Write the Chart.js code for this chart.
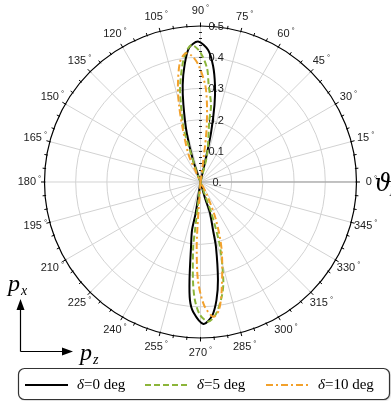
<!DOCTYPE html>
<html>
<head>
<meta charset="utf-8">
<script src="https://cdn.jsdelivr.net/npm/chart.js@4.4.1/dist/chart.umd.min.js"></script>
<style>
  html, body { margin: 0; padding: 0; background: #fff; }
  canvas { display: block; }
</style>
</head>
<body>
<canvas id="chart" width="391" height="401"></canvas>
<script>
// series labels
const seriesLabels = ['=0 deg', '=5 deg', '=10 deg'];

// angle (deg) / radius pairs, null = break between the two lobes
const theta0 = [78, 77.2, 77.9, 79.7, 81.5, 83.8, 86.7, 91.0, 94.9, 97.9, 100.4, 102.5, 105.7, 108.8, 109, null,
  260, 261.2, 260.0, 261.7, 263.6, 264.9, 266.8, 271.2, 274.9, 277.7, 280.1, 283.4, 284.6, 287.0, 285.7, 286];
const r0 = [0, 0.072, 0.161, 0.251, 0.314, 0.374, 0.424, 0.450, 0.431, 0.375, 0.316, 0.253, 0.163, 0.075, 0, null,
  0, 0.1005, 0.156, 0.2105, 0.316, 0.380, 0.417, 0.455, 0.431, 0.382, 0.319, 0.214, 0.159, 0.104, 0.053, 0];

const theta5 = [76, 76.5, 81.9, 82.2, 85.2, 86.7, 90.2, 93.8, 97.4, 101.8, 104.2, 107.6, 108.2, 110.6, 111, null,
  263, 263.5, 263.6, 265.6, 267.3, 269.8, 273.2, 276.7, 280.8, 283.1, 286.8, 289.2, 289, 289];
const r5 = [0, 0.089, 0.201, 0.249, 0.312, 0.365, 0.417, 0.440, 0.405, 0.318, 0.255, 0.175, 0.108, 0.041, 0, null,
  0, 0.155, 0.209, 0.315, 0.379, 0.426, 0.448, 0.426, 0.369, 0.3225, 0.216, 0.112, 0.044, 0];

const theta10 = [82, 82.6, 83.4, 85.2, 87.2, 91.2, 93.9, 96.7, 99.7, 103.1, 105.6, 108.6, 113.6, 114.2, 114, null,
  266, 266.2, 266.8, 268.5, 271.6, 275.4, 278.2, 281.1, 287.3, 292.2, 296.6, 297];
const r10 = [0, 0.087, 0.168, 0.248, 0.311, 0.378, 0.405, 0.415, 0.390, 0.319, 0.256, 0.176, 0.094, 0.035, 0, null,
  0, 0.154, 0.218, 0.314, 0.394, 0.434, 0.4145, 0.353, 0.228, 0.1315, 0.047, 0];

// axis ticks
const radialTicks = [0, 0.1, 0.2, 0.3, 0.4, 0.5];
const radialTickLabels = ['0.', '0.1', '0.2', '0.3', '0.4', '0.5'];
const angleTicks = [0, 15, 30, 45, 60, 75, 90, 105, 120, 135, 150, 165, 180, 195, 210, 225, 240, 255, 270, 285, 300, 315, 330, 345];

const rMax = 0.5;

function toXY(thetas, radii) {
  return thetas.map((t, i) => {
    if (t === null || radii[i] === null) return { x: null, y: null };
    const a = t * Math.PI / 180;
    return { x: radii[i] * Math.cos(a), y: radii[i] * Math.sin(a) };
  });
}

const polarGrid = {
  id: 'polarGrid',
  beforeDatasetsDraw(chart) {
    const { ctx, scales: { x, y } } = chart;
    const cx = x.getPixelForValue(0), cy = y.getPixelForValue(0);
    const unit = x.getPixelForValue(1) - cx;
    const R = rMax * unit;
    ctx.save();

    // spokes and circles
    ctx.strokeStyle = '#d2d2d2';
    ctx.lineWidth = 1;
    angleTicks.forEach(a => {
      const t = a * Math.PI / 180;
      ctx.beginPath();
      ctx.moveTo(cx, cy);
      ctx.lineTo(cx + R * Math.cos(t), cy - R * Math.sin(t));
      ctx.stroke();
    });
    radialTicks.slice(1, -1).forEach(r => {
      ctx.beginPath();
      ctx.arc(cx, cy, r * unit, 0, 2 * Math.PI);
      ctx.stroke();
    });
    ctx.strokeStyle = '#9a9a9a';
    ctx.beginPath();
    ctx.moveTo(cx, cy);
    ctx.lineTo(cx + R, cy);
    ctx.stroke();

    // outer circle + ticks
    ctx.strokeStyle = '#000';
    ctx.lineWidth = 1.2;
    ctx.beginPath();
    ctx.arc(cx, cy, R, 0, 2 * Math.PI);
    ctx.stroke();
    ctx.lineWidth = 1;
    for (let a = 0; a < 360; a += 5) {
      const t = a * Math.PI / 180;
      const l = a % 15 === 0 ? 3.5 : 2.5;
      ctx.beginPath();
      ctx.moveTo(cx + (R - 1) * Math.cos(t), cy - (R - 1) * Math.sin(t));
      ctx.lineTo(cx + (R + l) * Math.cos(t), cy - (R + l) * Math.sin(t));
      ctx.stroke();
    }

    // minor ticks along the radial axis
    ctx.fillStyle = '#222';
    for (let i = 1; i < 25; i++) {
      ctx.fillRect(cx - 1.5, Math.round(cy - i * 0.02 * unit), 3, 1);
    }

    // radial labels
    ctx.font = '11px "Liberation Sans", Arial, sans-serif';
    ctx.textBaseline = 'middle';
    ctx.textAlign = 'left';
    ctx.fillStyle = '#222';
    radialTicks.forEach((r, i) => {
      ctx.fillText(radialTickLabels[i], cx + (i === 0 ? 12 : 8), cy - r * unit + 1);
    });

    // angle labels
    angleTicks.forEach(a => {
      const t = a * Math.PI / 180;
      const lr = R + 15;
      const lx = cx + lr * Math.cos(t), ly = cy - lr * Math.sin(t);
      ctx.font = '11px "Liberation Sans", Arial, sans-serif';
      const w = ctx.measureText(String(a)).width;
      ctx.font = '8px "Liberation Sans", Arial, sans-serif';
      const wd = ctx.measureText('°').width;
      const x0 = lx - (w + 2 + wd) / 2;
      ctx.font = '11px "Liberation Sans", Arial, sans-serif';
      ctx.fillText(String(a), x0, ly);
      ctx.font = '8px "Liberation Sans", Arial, sans-serif';
      ctx.fillText('°', x0 + w + 2, ly - 3);
    });
    ctx.restore();
  },
  afterDraw(chart) {
    const { ctx, scales: { x, y } } = chart;
    const cx = x.getPixelForValue(0), cy = y.getPixelForValue(0);
    const unit = x.getPixelForValue(1) - cx;
    ctx.save();

    // angular axis name
    ctx.fillStyle = '#000';
    ctx.textBaseline = 'alphabetic';
    ctx.textAlign = 'left';
    ctx.font = 'italic 24px "DejaVu Serif", serif';
    ctx.fillText('ϑ', cx + rMax * unit + 18, cy + 9);
    ctx.font = 'italic 14px "Liberation Serif", serif';
    ctx.fillText('P', cx + rMax * unit + 33, cy + 14);

    // p_x / p_z arrows
    const ox = 20.5, oy = 351.5;
    ctx.strokeStyle = '#000';
    ctx.lineWidth = 1.2;
    ctx.beginPath();
    ctx.moveTo(ox, oy); ctx.lineTo(ox, 306);
    ctx.moveTo(ox, oy); ctx.lineTo(66, oy);
    ctx.stroke();
    ctx.beginPath();
    ctx.moveTo(ox, 299); ctx.lineTo(ox - 4, 310); ctx.lineTo(ox + 4, 310); ctx.closePath();
    ctx.moveTo(73, oy); ctx.lineTo(62, oy - 4); ctx.lineTo(62, oy + 4); ctx.closePath();
    ctx.fill();
    ctx.font = 'italic 24px "Liberation Serif", serif';
    ctx.fillText('p', 8, 291);
    ctx.fillText('p', 80, 360);
    ctx.font = 'italic 14px "Liberation Serif", serif';
    ctx.fillText('x', 21, 295);
    ctx.fillText('z', 93, 364);

    // legend box
    const bx = 18.5, by = 368.5, bw = 371, bh = 31, rad = 6;
    ctx.shadowColor = 'rgba(0,0,0,0.25)';
    ctx.shadowBlur = 2;
    ctx.shadowOffsetX = 1;
    ctx.shadowOffsetY = 1;
    ctx.fillStyle = '#fff';
    ctx.beginPath();
    ctx.roundRect(bx, by, bw, bh, rad);
    ctx.fill();
    ctx.shadowColor = 'transparent';
    ctx.strokeStyle = '#333';
    ctx.lineWidth = 1.2;
    ctx.stroke();

    const items = [
      { x0: 25, x1: 68, tx: 77 },
      { x0: 145, x1: 188, tx: 197 },
      { x0: 266, x1: 308, tx: 318 }
    ];
    const ly = 385;
    chart.data.datasets.forEach((ds, i) => {
      const it = items[i];
      ctx.strokeStyle = ds.borderColor;
      ctx.lineWidth = 2;
      ctx.setLineDash(ds.borderDash || []);
      ctx.beginPath();
      ctx.moveTo(it.x0, ly); ctx.lineTo(it.x1, ly);
      ctx.stroke();
      ctx.setLineDash([]);
      ctx.fillStyle = '#000';
      ctx.textBaseline = 'middle';
      ctx.font = 'italic 15px "Liberation Serif", serif';
      ctx.fillText('δ', it.tx, ly);
      const dw = ctx.measureText('δ').width;
      ctx.font = '15px "Liberation Serif", serif';
      ctx.fillText(ds.label, it.tx + dw, ly);
    });
    ctx.restore();
  }
};

new Chart(document.getElementById('chart'), {
  type: 'scatter',
  data: {
    datasets: [
      { label: seriesLabels[0], data: toXY(theta0, r0), borderColor: '#000000', borderWidth: 2, order: 3 },
      { label: seriesLabels[1], data: toXY(theta5, r5), borderColor: '#8cb53a', borderWidth: 2, borderDash: [6, 3], order: 2 },
      { label: seriesLabels[2], data: toXY(theta10, r10), borderColor: '#f2a12c', borderWidth: 2, borderDash: [7, 3, 2, 3], order: 1 }
    ]
  },
  options: {
    responsive: false,
    animation: false,
    layout: { padding: 0, autoPadding: false },
    showLine: true,
    elements: {
      point: { radius: 0, hoverRadius: 0 },
      line: { tension: 0.3, fill: false }
    },
    scales: {
      x: { type: 'linear', min: -0.6426, max: 0.6106, display: false },
      y: { type: 'linear', min: -0.7019, max: 0.5833, display: false }
    },
    plugins: {
      legend: { display: false },
      tooltip: { enabled: false }
    }
  },
  plugins: [polarGrid]
});
</script>
</body>
</html>
